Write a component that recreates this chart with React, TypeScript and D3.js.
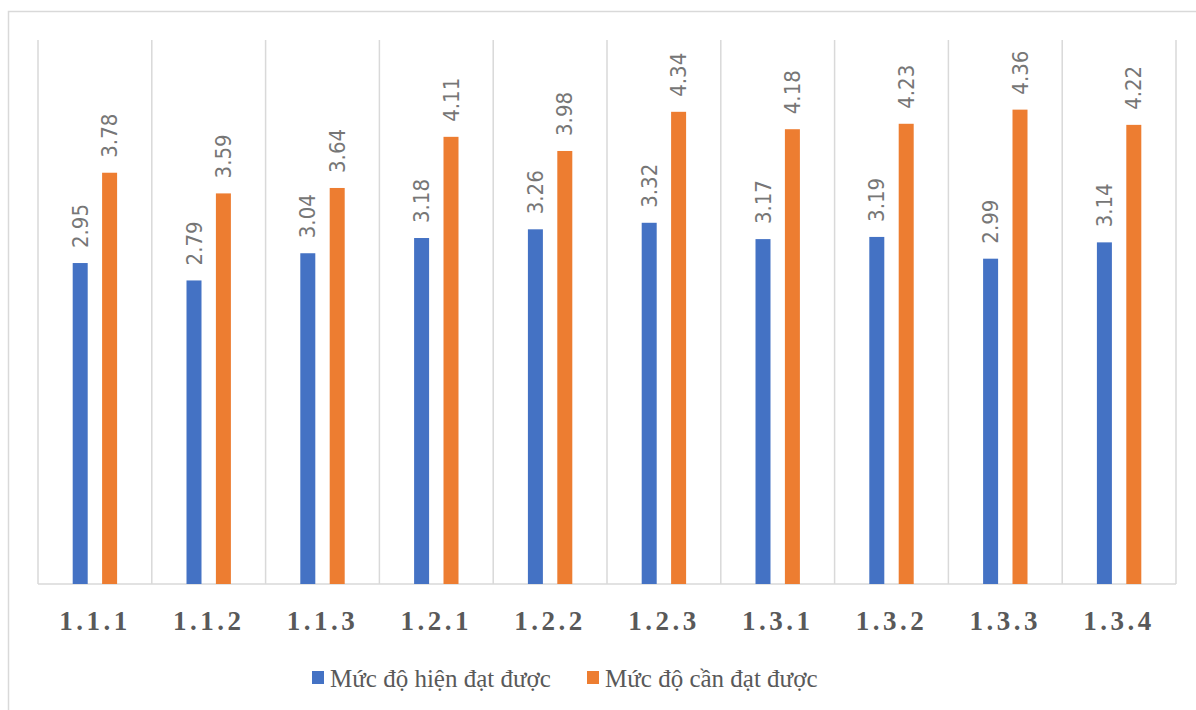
import React from "react";
import * as d3 from "d3";

const categories = ["1.1.1", "1.1.2", "1.1.3", "1.2.1", "1.2.2", "1.2.3", "1.3.1", "1.3.2", "1.3.3", "1.3.4"];
const seriesNames = ["Mức độ hiện đạt được", "Mức độ cần đạt được"];
const currentValues = [2.95, 2.79, 3.04, 3.18, 3.26, 3.32, 3.17, 3.19, 2.99, 3.14];
const targetValues = [3.78, 3.59, 3.64, 4.11, 3.98, 4.34, 4.18, 4.23, 4.36, 4.22];
const colors = ["#4472C4", "#ED7D31"];

const W = 1196;
const H = 710;
const plot = { left: 38, right: 1176, top: 40, bottom: 584 };

export default function App() {
  const x = d3.scaleBand<string>().domain(categories).range([plot.left, plot.right]).padding(0);
  const y = d3.scaleLinear().domain([0, 5]).range([plot.bottom, plot.top]);
  const barW = 15;
  const series = [currentValues, targetValues];
  const labelFont = "'Liberation Sans Narrow', 'DejaVu Sans Condensed', sans-serif";
  const serif = "'Liberation Serif', 'Times New Roman', serif";

  const bounds = categories.map((c) => x(c)!).concat([plot.right]);

  return (
    <svg width={W} height={H} style={{ position: "absolute", left: 0, top: 0, background: "#fff" }}>
      <rect x={8.5} y={11.5} width={1300} height={800} fill="#fff" stroke="#d9d9d9" strokeWidth={1.5} />
      {bounds.map((bx, i) => (
        <line key={i} x1={bx} x2={bx} y1={plot.top} y2={plot.bottom} stroke="#d9d9d9" strokeWidth={1.5} />
      ))}
      <line x1={plot.left} x2={plot.right} y1={plot.bottom} y2={plot.bottom} stroke="#d9d9d9" strokeWidth={1.5} />
      {series.map((vals, si) =>
        vals.map((v, i) => {
          const cx = x(categories[i])! + x.bandwidth() / 2 + (si === 0 ? -14.7 : 14.7);
          const top = y(v);
          return (
            <g key={`${si}-${i}`}>
              <rect x={cx - barW / 2} y={top} width={barW} height={plot.bottom - top} fill={colors[si]} />
              <text
                transform={`translate(${cx},${top - 15}) rotate(-90)`}
                textAnchor="start"
                dominantBaseline="central"
                fontFamily={labelFont}
                fontSize={22}
                fill="#767676"
              >
                {v.toFixed(2)}
              </text>
            </g>
          );
        })
      )}
      {categories.map((c) => (
        <text
          key={c}
          x={x(c)! + x.bandwidth() / 2}
          y={630}
          textAnchor="middle"
          fontFamily={serif}
          fontWeight="bold"
          fontSize={27}
          letterSpacing={3.5}
          fill="#595959"
        >
          {c}
        </text>
      ))}
      {seriesNames.map((n, i) => {
        const lx = i === 0 ? 312 : 587;
        return (
          <g key={n}>
            <rect x={lx} y={671} width={12} height={13} fill={colors[i]} />
            <text x={lx + 18} y={687} fontFamily={serif} fontSize={25} fill="#595959">
              {n}
            </text>
          </g>
        );
      })}
    </svg>
  );
}
